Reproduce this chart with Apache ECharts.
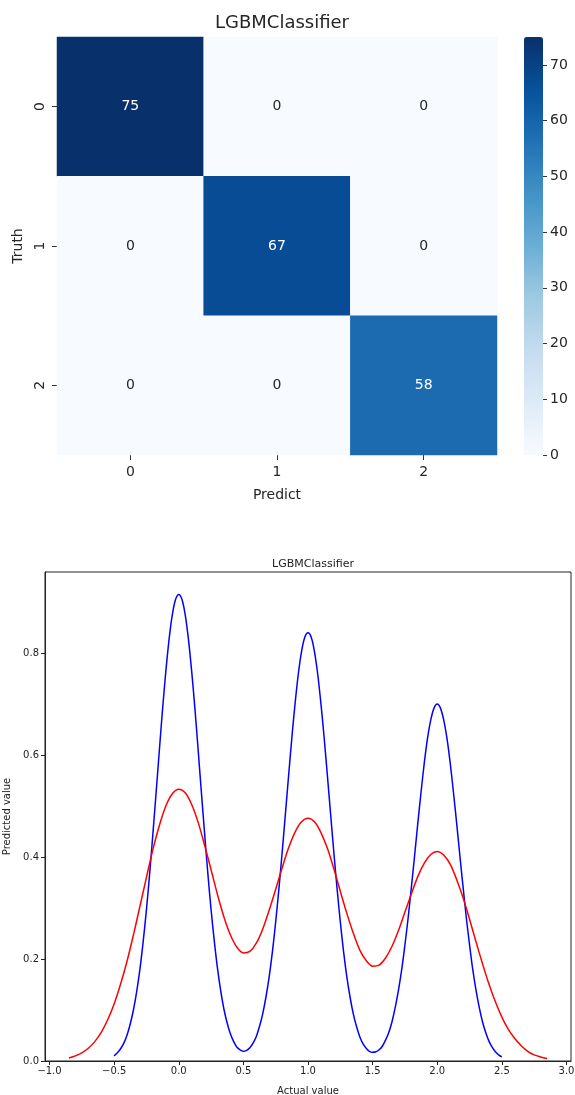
<!DOCTYPE html>
<html>
<head>
<meta charset="utf-8">
<script src="https://cdn.jsdelivr.net/npm/echarts@6/dist/echarts.min.js"></script>
<style>
html,body{margin:0;padding:0;background:#fff;}
#chart{width:575px;height:1095px;}
</style>
</head>
<body>
<div id="chart"></div>
<script>
// ---------- Data ----------
const classLabels = ['0', '1', '2'];
const confusion = [
  [75, 0, 0],
  [0, 67, 0],
  [0, 0, 58]
];
const colorbarTicks = [0, 10, 20, 30, 40, 50, 60, 70];

const blueX = [-0.5,-0.475,-0.45,-0.425,-0.4,-0.375,-0.35,-0.325,-0.3,-0.275,-0.25,-0.225,-0.2,-0.175,-0.15,-0.125,-0.1,-0.075,-0.05,-0.025,
  0,0.025,0.05,0.075,0.1,0.125,0.15,0.175,0.2,0.225,0.25,0.275,0.3,0.325,0.35,0.375,0.4,0.425,0.45,0.475,
  0.5,0.525,0.55,0.575,0.6,0.625,0.65,0.675,0.7,0.725,0.75,0.775,0.8,0.825,0.85,0.875,0.9,0.925,0.95,0.975,
  1,1.025,1.05,1.075,1.1,1.125,1.15,1.175,1.2,1.225,1.25,1.275,1.3,1.325,1.35,1.375,1.4,1.425,1.45,1.475,
  1.5,1.525,1.55,1.575,1.6,1.625,1.65,1.675,1.7,1.725,1.75,1.775,1.8,1.825,1.85,1.875,1.9,1.925,1.95,1.975,
  2,2.025,2.05,2.075,2.1,2.125,2.15,2.175,2.2,2.225,2.25,2.275,2.3,2.325,2.35,2.375,2.4,2.425,2.45,2.475,2.5];
const blueY = [0.010,0.016,0.024,0.035,0.051,0.073,0.101,0.137,0.181,0.235,0.297,0.368,0.446,0.527,0.610,0.691,0.764,0.827,0.875,0.905,
  0.915,0.905,0.875,0.827,0.764,0.691,0.610,0.527,0.446,0.368,0.297,0.235,0.181,0.137,0.101,0.074,0.053,0.038,0.027,0.022,
  0.019,0.021,0.026,0.035,0.048,0.068,0.093,0.126,0.166,0.215,0.273,0.338,0.409,0.484,0.560,0.634,0.701,0.759,0.803,0.831,
  0.840,0.831,0.803,0.759,0.701,0.634,0.560,0.484,0.409,0.338,0.273,0.215,0.166,0.126,0.093,0.068,0.048,0.034,0.025,0.019,
  0.017,0.018,0.022,0.029,0.041,0.056,0.077,0.105,0.139,0.179,0.228,0.281,0.341,0.403,0.467,0.528,0.585,0.633,0.669,0.692,
  0.700,0.692,0.669,0.633,0.585,0.528,0.467,0.403,0.341,0.281,0.228,0.179,0.139,0.105,0.077,0.056,0.039,0.027,0.018,0.012,0.008];

const redX = [-0.85,-0.8,-0.75,-0.7,-0.65,-0.6,-0.55,-0.5,-0.45,-0.4,-0.35,-0.3,-0.25,-0.2,-0.15,-0.1,-0.05,0,0.05,0.1,0.15,0.2,0.25,0.3,0.35,0.4,0.45,0.5,0.55,0.6,0.65,0.7,0.75,0.8,0.85,0.9,0.95,1,1.05,1.1,1.15,1.2,1.25,1.3,1.35,1.4,1.45,1.5,1.55,1.6,1.65,1.7,1.75,1.8,1.85,1.9,1.95,2,2.05,2.1,2.15,2.2,2.25,2.3,2.35,2.4,2.45,2.5,2.55,2.6,2.65,2.7,2.75,2.8,2.85];
const redY = [0.006,0.010,0.016,0.025,0.038,0.056,0.081,0.112,0.151,0.196,0.248,0.304,0.360,0.415,0.462,0.500,0.524,0.533,0.526,0.503,0.468,0.423,0.375,0.326,0.282,0.247,0.223,0.212,0.215,0.231,0.259,0.296,0.337,0.379,0.418,0.449,0.469,0.476,0.469,0.448,0.417,0.377,0.333,0.290,0.251,0.218,0.197,0.186,0.188,0.202,0.225,0.256,0.292,0.328,0.362,0.388,0.405,0.411,0.404,0.386,0.356,0.320,0.278,0.234,0.191,0.151,0.116,0.086,0.062,0.044,0.030,0.019,0.012,0.008,0.005];

const kdeXTicks = [-1.0,-0.5,0.0,0.5,1.0,1.5,2.0,2.5,3.0];
const kdeYTicks = [0.0,0.2,0.4,0.6,0.8];

// ---------- Build ----------
const FONT = 'DejaVu Sans';
const blues = ['#f7fbff','#deebf7','#c6dbef','#9ecae1','#6baed6','#4292c6','#2171b5','#08519c','#08306b'];

const heatData = [];
confusion.forEach((row, r) => row.forEach((v, c) => {
  heatData.push({
    value: [c, r, v],
    label: { color: v > 37 ? '#ffffff' : '#262626' }
  });
}));

const fmtMinus = v => (v < 0 ? '\u2212' : '') + Math.abs(v).toFixed(1);

const chart = echarts.init(document.getElementById('chart'), null, { renderer: 'canvas' });
chart.setOption({
  animation: false,
  backgroundColor: '#ffffff',
  textStyle: { fontFamily: FONT },
  title: [
    { text: 'LGBMClassifier', left: 277, top: 9, textAlign: 'center',
      textStyle: { fontSize: 18, fontWeight: 'normal', color: '#262626', fontFamily: FONT } },
    { text: 'LGBMClassifier', left: 308, top: 554, textAlign: 'center',
      textStyle: { fontSize: 11, fontWeight: 'normal', color: '#222', fontFamily: FONT } }
  ],
  grid: [
    { left: 57, top: 37, width: 440, height: 418, outerBoundsMode: 'none', containLabel: false },
    { left: 45, top: 572, right: 4, bottom: 34, show: true, borderColor: '#222', borderWidth: 1, backgroundColor: '#fff', outerBoundsMode: 'none', containLabel: false },
    { left: 524, top: 37, width: 19, height: 418, outerBoundsMode: 'none', containLabel: false }
  ],
  xAxis: [
    { gridIndex: 0, type: 'category', data: classLabels,
      name: 'Predict', nameLocation: 'middle', nameGap: 33,
      nameTextStyle: { fontSize: 14, color: '#262626' },
      axisLine: { show: false },
      axisTick: { show: true, alignWithLabel: true, length: 5, lineStyle: { color: '#333' } },
      axisLabel: { fontSize: 14, color: '#262626', margin: 10 },
      splitLine: { show: false } },
    { gridIndex: 1, type: 'value', min: -1.035, max: 3.035,
      name: 'Actual value', nameLocation: 'middle', nameGap: 25,
      nameTextStyle: { fontSize: 10, color: '#222' },
      axisLine: { show: true, onZero: false, lineStyle: { color: '#222' } },
      axisTick: { show: true, length: 4, customValues: kdeXTicks, lineStyle: { color: '#222' } },
      axisLabel: { fontSize: 10, color: '#222', margin: 5, customValues: kdeXTicks, formatter: fmtMinus },
      splitLine: { show: false } },
    { gridIndex: 2, type: 'category', data: ['c'], show: false }
  ],
  yAxis: [
    { gridIndex: 0, type: 'category', data: classLabels, inverse: true,
      name: 'Truth', nameLocation: 'middle', nameGap: 31, nameRotate: 90,
      nameTextStyle: { fontSize: 14, color: '#262626' },
      axisLine: { show: false },
      axisTick: { show: true, alignWithLabel: true, length: 5, lineStyle: { color: '#333' } },
      axisLabel: { fontSize: 14, color: '#262626', margin: 10, rotate: 90 },
      splitLine: { show: false } },
    { gridIndex: 1, type: 'value', min: 0, max: 0.959,
      name: 'Predicted value', nameLocation: 'middle', nameGap: 27, nameRotate: 90,
      nameTextStyle: { fontSize: 10, color: '#222' },
      axisLine: { show: true, onZero: false, lineStyle: { color: '#222' } },
      axisTick: { show: true, length: 4, customValues: kdeYTicks, lineStyle: { color: '#222' } },
      axisLabel: { fontSize: 10, color: '#222', margin: 6, customValues: kdeYTicks, formatter: v => v.toFixed(1) },
      splitLine: { show: false } },
    { gridIndex: 2, type: 'value', min: 0, max: 75, position: 'right',
      axisLine: { show: false },
      axisTick: { show: true, length: 4, customValues: colorbarTicks, lineStyle: { color: '#333' } },
      axisLabel: { fontSize: 14, color: '#262626', margin: 7, customValues: colorbarTicks },
      splitLine: { show: false } }
  ],
  visualMap: {
    type: 'continuous', min: 0, max: 75, seriesIndex: 0,
    calculable: false, orient: 'vertical',
    left: 524, top: 37, itemWidth: 19, itemHeight: 418, padding: 0,
    text: null, showLabel: false,
    inRange: { color: blues }
  },
  series: [
    { type: 'heatmap', xAxisIndex: 0, yAxisIndex: 0, data: heatData,
      label: { show: true, fontSize: 14, fontFamily: FONT },
      itemStyle: { borderWidth: 0 },
      emphasis: { disabled: true } },
    { type: 'line', xAxisIndex: 1, yAxisIndex: 1, showSymbol: false, smooth: 0.3,
      data: blueX.map((x, i) => [x, blueY[i]]),
      lineStyle: { color: '#0000ff', width: 1.5 }, itemStyle: { color: '#0000ff' } },
    { type: 'line', xAxisIndex: 1, yAxisIndex: 1, showSymbol: false, smooth: 0.3,
      data: redX.map((x, i) => [x, redY[i]]),
      lineStyle: { color: '#ff0000', width: 1.5 }, itemStyle: { color: '#ff0000' } }
  ]
});
</script>
</body>
</html>
